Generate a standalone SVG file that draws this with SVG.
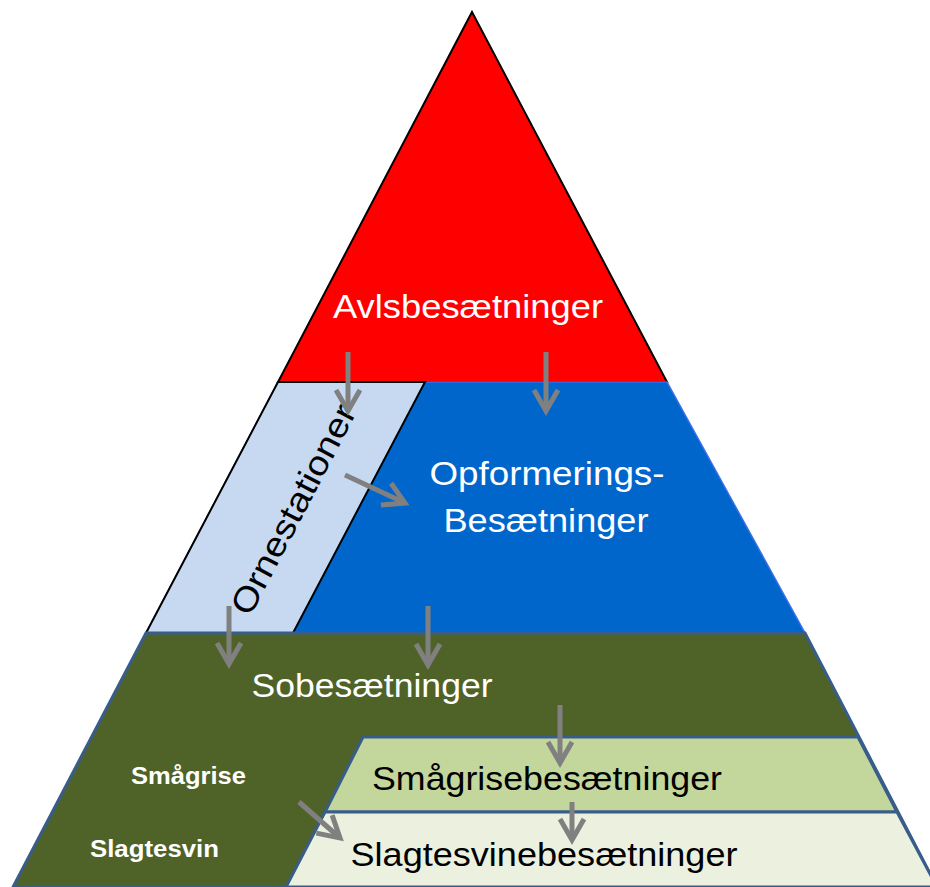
<svg xmlns="http://www.w3.org/2000/svg" width="930" height="887" viewBox="0 0 930 887">
<defs>
<marker id="chev" markerUnits="userSpaceOnUse" viewBox="-26 -16 30 32" refX="0" refY="0" markerWidth="30" markerHeight="32" orient="auto" overflow="visible">
<path d="M-21,-12 L0,0 L-21,12" fill="none" stroke="#808080" stroke-width="5"/>
</marker>
<style>
.lbl{font-family:"Liberation Sans",Arial,sans-serif;font-size:34px;text-anchor:middle}
.w{fill:#ffffff}
.k{fill:#000000}
.sm{font-family:"Liberation Sans",Arial,sans-serif;font-size:24px;font-weight:bold;fill:#ffffff}
.band{stroke:#385D8A;stroke-width:3;stroke-linejoin:miter}
.arr{stroke:#808080;stroke-width:5;fill:none;marker-end:url(#chev)}
</style>
</defs>
<rect width="930" height="887" fill="#ffffff"/>
<g id="avl">
<polygon points="472,12 667,382 278,382" fill="#FF0000" stroke="#000000" stroke-width="2"/>
<text class="lbl w" x="468" y="318" textLength="270" lengthAdjust="spacingAndGlyphs">Avlsbesætninger</text>
</g>
<g id="opformering">
<polygon points="278,382 667,382 805,633 146,633" fill="#0066CC" stroke="#3A6FE8" stroke-width="1.5"/>
<text class="lbl w" x="547" y="485" textLength="235" lengthAdjust="spacingAndGlyphs">Opformerings-</text>
<text class="lbl w" x="546" y="532" textLength="205" lengthAdjust="spacingAndGlyphs">Besætninger</text>
</g>
<g id="ornestationer">
<polygon points="278,382 425,382 293,633 146,633" fill="#C6D9F1" stroke="#000000" stroke-width="2"/>
<text class="lbl k" x="0" y="12" transform="translate(293,509) rotate(-62.5)" textLength="232" lengthAdjust="spacingAndGlyphs">Ornestationer</text>
</g>
<g id="sobesaetninger">
<polygon class="band" points="146,633 805,633 937,887 13,887" fill="#4F6228"/>
<text class="lbl w" x="372" y="697" textLength="241" lengthAdjust="spacingAndGlyphs">Sobesætninger</text>
<text class="sm" x="131" y="784" textLength="115" lengthAdjust="spacingAndGlyphs">Smågrise</text>
<text class="sm" x="90" y="857" textLength="129" lengthAdjust="spacingAndGlyphs">Slagtesvin</text>
</g>
<g id="smaagrise">
<polygon class="band" points="363,737 858,737 897,812 325,812" fill="#C3D69B"/>
<text class="lbl k" x="547" y="790" textLength="350" lengthAdjust="spacingAndGlyphs">Smågrisebesætninger</text>
</g>
<g id="slagtesvin">
<polygon class="band" points="325,812 897,812 937,887 286,887" fill="#EBF1DE"/>
<text class="lbl k" x="544" y="866" textLength="387" lengthAdjust="spacingAndGlyphs">Slagtesvinebesætninger</text>
</g>
<g id="connectors">
<line class="arr" x1="348" y1="352" x2="348" y2="411"/>
<line class="arr" x1="546" y1="352" x2="546" y2="411"/>
<line class="arr" x1="345" y1="475" x2="405" y2="503"/>
<line class="arr" x1="229" y1="606" x2="229" y2="664"/>
<line class="arr" x1="428" y1="606" x2="428" y2="665"/>
<line class="arr" x1="560" y1="705" x2="560" y2="763"/>
<line class="arr" x1="572" y1="802" x2="572" y2="840"/>
<line class="arr" x1="299" y1="802" x2="340" y2="838"/>
</g>
</svg>
